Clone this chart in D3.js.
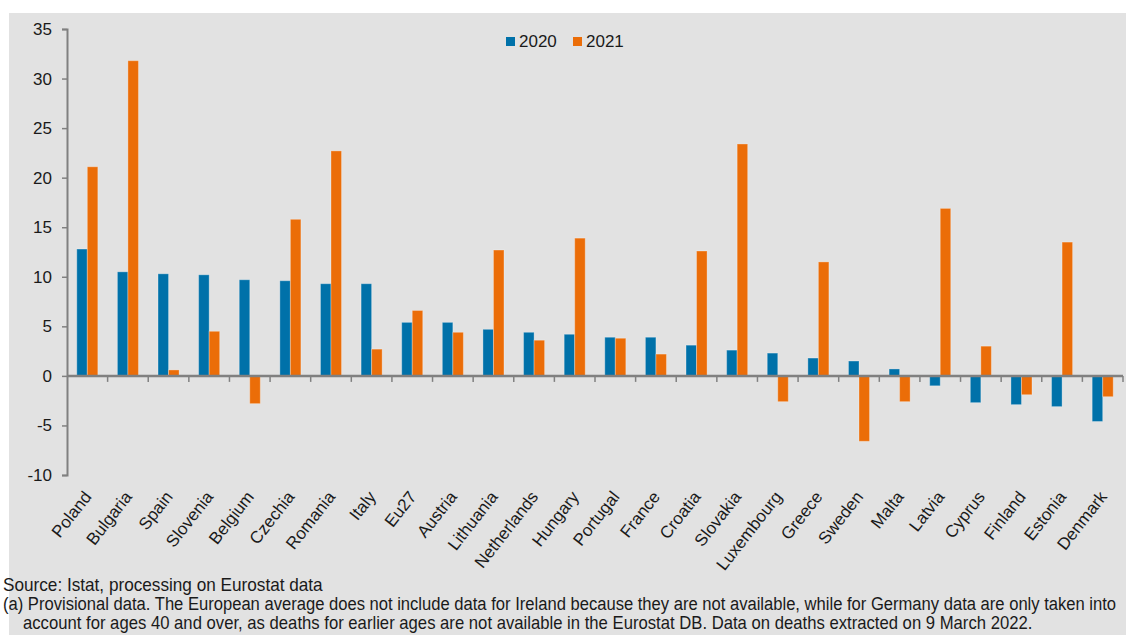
<!DOCTYPE html>
<html>
<head>
<meta charset="utf-8">
<script src="https://cdn.jsdelivr.net/npm/d3@7"></script>
<style>
  html, body { margin: 0; padding: 0; background: #ffffff; }
  svg { display: block; }
  text { font-family: "Liberation Sans", Arial, Helvetica, sans-serif; fill: #1a1a1a; }
  .note { font-family: "Liberation Sans Narrow", "Arial Narrow", "Liberation Sans", sans-serif; }
</style>
</head>
<body>
<svg id="chart" width="1128" height="639"></svg>
<script>
// Excess mortality by country, % change vs. 2015-2019 average
const countries = ["Poland","Bulgaria","Spain","Slovenia","Belgium","Czechia","Romania","Italy","Eu27","Austria",
  "Lithuania","Netherlands","Hungary","Portugal","France","Croatia","Slovakia","Luxembourg","Greece","Sweden",
  "Malta","Latvia","Cyprus","Finland","Estonia","Denmark"];
const values2020 = [12.8,10.5,10.3,10.2,9.7,9.6,9.3,9.3,5.4,5.4,
  4.7,4.4,4.2,3.9,3.9,3.1,2.6,2.3,1.8,1.5,
  0.7,-1.0,-2.7,-2.9,-3.1,-4.6];
const values2021 = [21.1,31.8,0.6,4.5,-2.8,15.8,22.7,2.7,6.6,4.4,
  12.7,3.6,13.9,3.8,2.2,12.6,23.4,-2.6,11.5,-6.6,
  -2.6,16.9,3.0,-1.9,13.5,-2.1];
const seriesNames = ["2020","2021"];
const seriesColors = ["#0071a9","#eb6d08"];
const yTicks = [-10,-5,0,5,10,15,20,25,30,35];
const sourceLine = "Source: Istat, processing on Eurostat data";
const noteLines = [
  "(a) Provisional data. The European average does not include data for Ireland because they are not available, while for Germany data are only taken into",
  "account for ages 40 and over, as deaths for earlier ages are not available in the Eurostat DB. Data on deaths extracted on 9 March 2022."
];

const rows = countries.map((c, i) => ({ country: c, vals: [values2020[i], values2021[i]] }));

const svg = d3.select("#chart");

// panel background
svg.append("rect").attr("x", 9).attr("y", 13).attr("width", 1117).attr("height", 622).attr("fill", "#e2e2e2");

const plot = { left: 67, right: 1123, top: 29, bottom: 475 };

const x = d3.scaleBand().domain(countries).range([plot.left, plot.right]).paddingInner(0).paddingOuter(0);
const xSub = d3.scaleBand().domain(seriesNames).range([0, x.bandwidth()]).paddingInner(0).paddingOuter(0.93);
const y = d3.scaleLinear().domain([-10, 35]).range([plot.bottom, plot.top]);

// bars
const groups = svg.append("g").selectAll("g").data(rows).join("g")
  .attr("transform", d => `translate(${x(d.country)},0)`);
groups.selectAll("rect").data(d => d.vals.map((v, k) => ({ v, k }))).join("rect")
  .attr("x", d => xSub(seriesNames[d.k]))
  .attr("width", xSub.bandwidth())
  .attr("y", d => y(Math.max(0, d.v)))
  .attr("height", d => Math.abs(y(d.v) - y(0)))
  .attr("fill", d => seriesColors[d.k])
  .attr("stroke", "rgba(255,255,255,0.3)")
  .attr("stroke-width", 1);

// y axis (plain hyphen for negatives)
const yAxis = d3.axisLeft(y).tickValues(yTicks).tickSize(5).tickPadding(10).tickFormat(d => String(d));
const gy = svg.append("g").attr("transform", `translate(${plot.left},0)`).call(yAxis);
gy.select(".domain").attr("stroke", "#808080").attr("stroke-width", 2);
gy.selectAll(".tick line").attr("stroke", "#808080").attr("stroke-width", 1.5);
gy.selectAll(".tick text").attr("font-size", 17).attr("fill", "#1a1a1a")
  .style("font-family", '"Liberation Sans", Arial, sans-serif');

// zero line with category boundary ticks
svg.append("line").attr("x1", plot.left).attr("x2", plot.right)
  .attr("y1", y(0)).attr("y2", y(0)).attr("stroke", "#808080").attr("stroke-width", 2.5);
const bounds = countries.map(c => x(c) + x.bandwidth());
svg.append("g").selectAll("line").data(bounds).join("line")
  .attr("x1", d => d).attr("x2", d => d)
  .attr("y1", y(0)).attr("y2", y(0) + 6)
  .attr("stroke", "#808080").attr("stroke-width", 1.5);

// category labels
svg.append("g").selectAll("text").data(countries).join("text")
  .attr("text-anchor", "end")
  .attr("font-size", 17)
  .attr("transform", d => `translate(${x(d) + x.bandwidth() / 2 + 5},497) rotate(-52)`)
  .text(d => d);

// legend
const legend = svg.append("g");
const legendX = [506, 573];
seriesNames.forEach((s, k) => {
  legend.append("rect").attr("x", legendX[k]).attr("y", 37).attr("width", 9).attr("height", 9).attr("fill", seriesColors[k]);
  legend.append("text").attr("x", legendX[k] + 13).attr("y", 47).attr("font-size", 17).text(s);
});

// source and notes: condensed look by shrinking the font to the target width
// and stretching it vertically back to an 18px line height
function noteText(str, x0, y0, width) {
  const g = svg.append("g");
  const t = g.append("text").attr("class", "note").attr("font-size", 18).text(str);
  const natural = t.node().getComputedTextLength();
  const fs = 18 * width / natural;
  t.attr("font-size", fs);
  g.attr("transform", `translate(${x0},${y0}) scale(1,${18 / fs})`);
}
noteText(sourceLine, 3, 591, 320);
noteText(noteLines[0], 3, 610, 1114);
noteText(noteLines[1], 23, 629, 1010);
</script>
</body>
</html>
